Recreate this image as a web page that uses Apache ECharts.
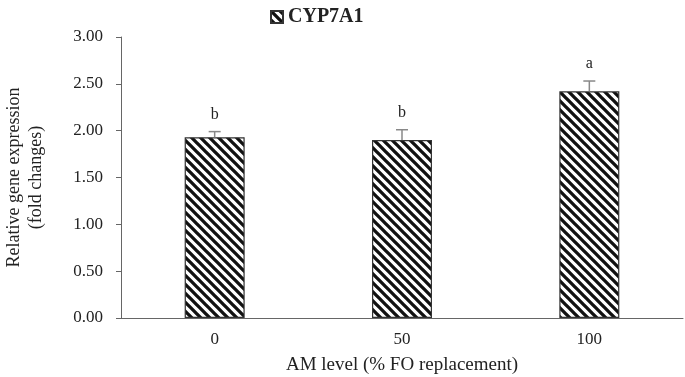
<!DOCTYPE html>
<html>
<head>
<meta charset="utf-8">
<script src="https://cdn.jsdelivr.net/npm/echarts@6/dist/echarts.min.js"></script>
<style>
  html, body { margin: 0; padding: 0; background: #fff; }
  #main { width: 685px; height: 377px; }
</style>
</head>
<body>
<div id="main"></div>
<script>
// data
var levels = ['0', '50', '100'];
var meanVals = [1.93, 1.90, 2.42];
var seVals = [0.06, 0.11, 0.11];
var letters = ['b', 'b', 'a'];

// diagonal hatch pattern (\\\)
function makeHatch() {
    var c = document.createElement('canvas');
    c.width = 9;
    c.height = 9;
    var ctx = c.getContext('2d');
    ctx.fillStyle = '#fff';
    ctx.fillRect(0, 0, 9, 9);
    ctx.strokeStyle = '#111';
    ctx.lineWidth = 3.3;
    ctx.beginPath();
    ctx.moveTo(-9, -9); ctx.lineTo(18, 18);
    ctx.moveTo(-9, 0); ctx.lineTo(9, 18);
    ctx.moveTo(0, -9); ctx.lineTo(18, 9);
    ctx.stroke();
    return c;
}
var hatch = { image: makeHatch(), repeat: 'repeat' };

var errData = [];
for (var i = 0; i < levels.length; i++) {
    errData.push([i, meanVals[i], seVals[i], letters[i]]);
}

var myChart = echarts.init(document.getElementById('main'));
var serif = 'Liberation Serif';
var option = {
    animation: false,
    legend: {
        top: 2,
        left: 265,
        itemWidth: 12,
        itemHeight: 12,
        itemGap: 4,
        data: [{ name: 'CYP7A1', icon: 'rect' }],
        textStyle: { fontFamily: serif, fontWeight: 'bold', fontSize: 20, color: '#222' }
    },
    grid: { left: 121, right: 2, top: 37, bottom: 59, outerBoundsMode: 'none' },
    xAxis: {
        type: 'category',
        data: levels,
        name: 'AM level (% FO replacement)',
        nameLocation: 'middle',
        nameGap: 38,
        nameTextStyle: { fontFamily: serif, fontSize: 19, color: '#222' },
        axisLine: { lineStyle: { color: '#666', width: 1 } },
        axisTick: { show: false },
        axisLabel: { margin: 13, fontFamily: serif, fontSize: 17, color: '#222' }
    },
    yAxis: {
        type: 'value',
        min: 0,
        max: 3,
        interval: 0.5,
        name: 'Relative gene expression\n(fold changes)',
        nameLocation: 'middle',
        nameGap: 74,
        nameTextStyle: { fontFamily: serif, fontSize: 18, color: '#222', lineHeight: 22 },
        axisLine: { show: true, lineStyle: { color: '#666', width: 1 } },
        axisTick: { show: true, length: 5, lineStyle: { color: '#666' } },
        splitLine: { show: false },
        axisLabel: {
            margin: 18,
            fontFamily: serif,
            fontSize: 17,
            color: '#222',
            formatter: function (v) { return v.toFixed(2); }
        }
    },
    series: [{
        name: 'CYP7A1',
        type: 'bar',
        data: meanVals,
        barWidth: 60,
        itemStyle: { color: hatch, borderColor: '#333', borderWidth: 1.2 }
    }, {
        type: 'custom',
        data: errData,
        z: 10,
        renderItem: function (params, api) {
            var x = api.value(0);
            var top = api.coord([x, api.value(1) + api.value(2)]);
            var base = api.coord([x, api.value(1)]);
            var st = { stroke: '#888', lineWidth: 1.5 };
            return {
                type: 'group',
                children: [{
                    type: 'line',
                    shape: { x1: top[0], y1: top[1], x2: base[0], y2: base[1] },
                    style: st
                }, {
                    type: 'line',
                    shape: { x1: top[0] - 6, y1: top[1], x2: top[0] + 6, y2: top[1] },
                    style: st
                }, {
                    type: 'text',
                    x: top[0],
                    y: top[1] - 17,
                    style: {
                        text: api.value(3),
                        fontFamily: serif,
                        fontSize: 16,
                        fill: '#222',
                        align: 'center',
                        verticalAlign: 'middle'
                    }
                }]
            };
        }
    }]
};
myChart.setOption(option);
</script>
</body>
</html>
